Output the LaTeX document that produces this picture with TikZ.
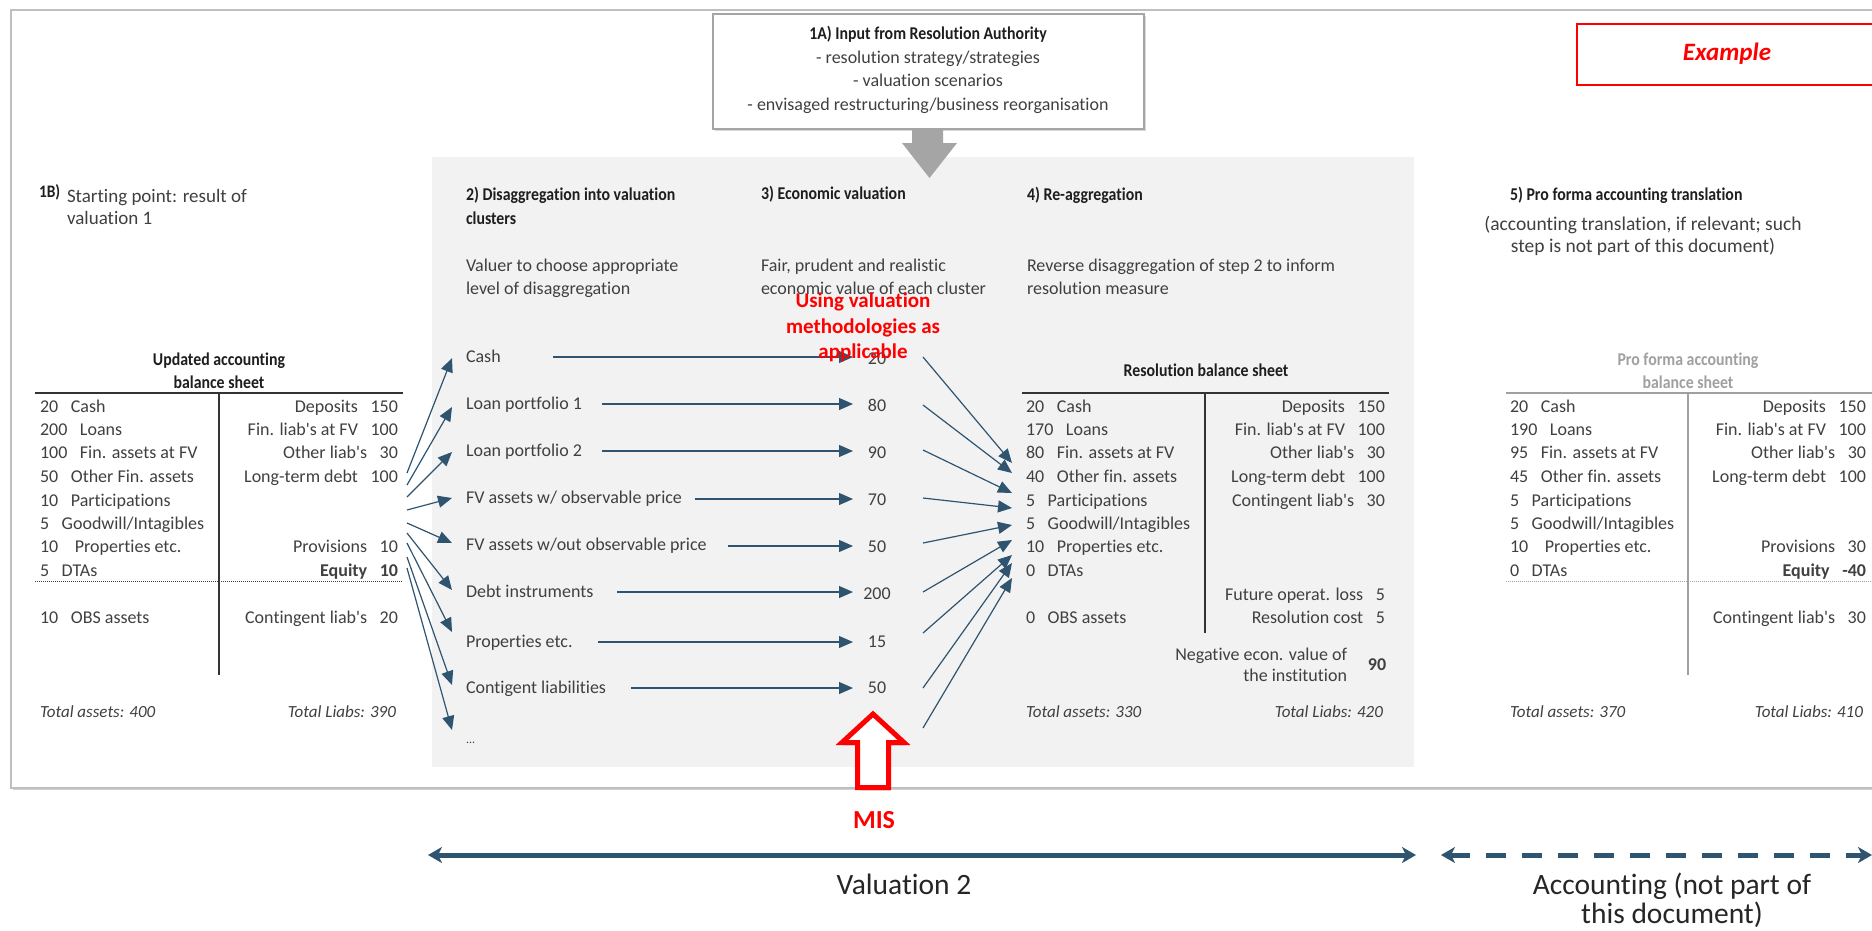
\documentclass[tikz,border=0pt]{standalone}
\usepackage{fontspec}
\setmainfont{Carlito}[Ligatures=NoCommon]
\newfontfamily\condfont{Carlito}[FakeStretch=0.88, Ligatures=NoCommon]
\usetikzlibrary{arrows.meta,shadows}

\definecolor{textcol}{RGB}{64,64,64}
\definecolor{headcol}{RGB}{30,30,30}
\definecolor{panelcol}{RGB}{242,242,242}
\definecolor{linkcol}{RGB}{47,84,112}
\definecolor{framecol}{RGB}{191,191,191}
\definecolor{boxcol}{RGB}{165,165,165}
\definecolor{fadedcol}{RGB}{160,160,160}
\definecolor{alertcol}{RGB}{255,0,0}

\newcommand\gap{\hspace{0.7em}}
\newcommand\ap{\textquotesingle}

\tikzset{
  base/.style={inner sep=0pt, outer sep=0pt, yshift=-3.5pt, text=textcol, font=\fontsize{18}{22}\selectfont},
  lt/.style={base, anchor=mid west},
  rt/.style={base, anchor=mid east},
  ct/.style={base, anchor=mid},
  hd/.style={base, anchor=mid west, text=headcol, font=\fontsize{18}{22}\selectfont\condfont\bfseries},
  hdc/.style={hd, anchor=mid},
  tot/.style={base, font=\fontsize{17}{20}\selectfont\itshape},
  faded/.style={text=fadedcol},
  redtxt/.style={base, anchor=mid, text=alertcol, font=\fontsize{21}{24}\selectfont\bfseries},
  bigtxt/.style={base, anchor=mid, text=black!85, font=\fontsize{29.5}{30}\selectfont},
  tline/.style={draw=textcol!80!black, line width=1.6pt},
  vline/.style={draw=textcol!80!black, line width=1.4pt},
  dotline/.style={draw=textcol, line width=0.9pt, dash pattern=on 1pt off 1pt},
  link/.style={draw=linkcol, line width=1.2pt, -{Triangle[length=14pt,width=12pt]}},
  span/.style={draw=linkcol, line width=5pt, {Stealth[length=14pt,width=16pt,inset=4pt]}-{Stealth[length=14pt,width=16pt,inset=4pt]}},
}

\begin{document}
\begin{tikzpicture}[x=1pt,y=-1pt]
\useasboundingbox (0,0) rectangle (1872,930);
\fill[white] (0,0) rectangle (1872,930);

% outer frame and shaded working area
\draw[framecol, line width=2pt, fill=white,
      drop shadow={shadow xshift=1.5pt, shadow yshift=-2pt, opacity=0.35}]
  (11,10) rectangle (1890,788);
\fill[panelcol] (432,157) rectangle (1414,767);

% input box from the resolution authority
\node[draw=boxcol, line width=2pt, fill=white, minimum width=431pt, minimum height=115pt,
      inner sep=0pt, drop shadow={shadow xshift=1.5pt, shadow yshift=-2pt, opacity=0.3}]
  (input) at (928.5,71.5) {};
\node[hdc] (inputT) at (928,34) {1A) Input from Resolution Authority};
\node[ct]  (input1) at (928,58) {- resolution strategy/strategies};
\node[ct]  (input2) at (928,81) {- valuation scenarios};
\node[ct]  (input3) at (928,105) {- envisaged restructuring/business reorganisation};

% grey block arrow down into the panel
\fill[boxcol] (912,129) -- (943,129) -- (943,143) -- (957,143) -- (929.5,178)
  -- (902,143) -- (912,143) -- cycle;

% example tag
\draw[alertcol, line width=2.5pt, fill=white] (1577,24) rectangle (1890,85);
\node[base, anchor=mid, text=alertcol, font=\fontsize{25}{28}\selectfont\bfseries\itshape]
  (example) at (1727,55) {Example};

% step headings
\node[base, anchor=mid west, text=headcol, font=\fontsize{17.5}{20}\selectfont\condfont\bfseries]
  (s1b) at (39,192) {1B)};
\node[lt, font=\fontsize{19}{22}\selectfont] (s1bA) at (67,197) {Starting point: result of};
\node[lt, font=\fontsize{19}{22}\selectfont] (s1bB) at (67,219) {valuation 1};

\node[hd] (s2A) at (466,195) {2) Disaggregation into valuation};
\node[hd] (s2B) at (466,219) {clusters};
\node[lt] (s2C) at (466,266) {Valuer to choose appropriate};
\node[lt] (s2D) at (466,289) {level of disaggregation};

\node[hd] (s3A) at (761,194) {3) Economic valuation};
\node[lt] (s3C) at (761,266) {Fair, prudent and realistic};
\node[lt] (s3D) at (761,289) {economic value of each cluster};

\node[hd] (s4A) at (1027,195) {4) Re-aggregation};
\node[lt] (s4C) at (1027,266) {Reverse disaggregation of step 2 to inform};
\node[lt] (s4D) at (1027,289) {resolution measure};

\node[hd] (s5A) at (1510,195) {5) Pro forma accounting translation};
\node[ct, font=\fontsize{19.5}{22}\selectfont] (s5C) at (1643,225) {(accounting translation, if relevant; such};
\node[ct, font=\fontsize{19.5}{22}\selectfont] (s5D) at (1643,247) {step is not part of this document)};

% ---- updated accounting balance sheet
\node[hdc] (ubT1) at (219,360) {Updated accounting};
\node[hdc] (ubT2) at (219,383) {balance sheet};
\draw[tline] (35,393) -- (403,393);
\draw[vline] (219,393) -- (219,675);
\draw[dotline] (35,581) -- (403,581);
\node[lt] (ub1) at (40,407) {20\gap Cash};
\node[lt] (ub2) at (40,430) {200\gap Loans};
\node[lt] (ub3) at (40,453) {100\gap Fin. assets at FV};
\node[lt] (ub4) at (40,477) {50\gap Other Fin. assets};
\node[lt] (ub5) at (40,501) {10\gap Participations};
\node[lt] (ub6) at (40,524) {5\gap Goodwill/Intagibles};
\node[lt] (ub7) at (40,547) {10\gap\ Properties etc.};
\node[lt] (ub8) at (40,571) {5\gap DTAs};
\node[lt] (ub9) at (40,618) {10\gap OBS assets};
\node[rt] (ubr1) at (398,407) {Deposits\gap 150};
\node[rt] (ubr2) at (398,430) {Fin. liab\ap s at FV\gap 100};
\node[rt] (ubr3) at (398,453) {Other liab\ap s\gap 30};
\node[rt] (ubr4) at (398,477) {Long-term debt\gap 100};
\node[rt] (ubr7) at (398,547) {Provisions\gap 10};
\node[rt, font=\fontsize{18}{22}\selectfont\bfseries] (ubr8) at (398,571) {Equity\gap 10};
\node[rt] (ubr9) at (398,618) {Contingent liab\ap s\gap 20};
\node[tot, anchor=mid west] (ubA) at (40,712) {Total assets: 400};
\node[tot, anchor=mid east] (ubL) at (396,712) {Total Liabs: 390};

% ---- valuation clusters and their economic values
\node[lt] (c1) at (466,357) {Cash};
\node[lt] (c2) at (466,404) {Loan portfolio 1};
\node[lt] (c3) at (466,451) {Loan portfolio 2};
\node[lt] (c4) at (466,498) {FV assets w/ observable price};
\node[lt] (c5) at (466,545) {FV assets w/out observable price};
\node[lt] (c6) at (466,592) {Debt instruments};
\node[lt] (c7) at (466,642) {Properties etc.};
\node[lt] (c8) at (466,688) {Contigent liabilities};
\node[lt, font=\fontsize{12}{14}\selectfont] (c9) at (466,738) {...};

\node[ct] (v1) at (877,359) {20};
\node[ct] (v2) at (877,406) {80};
\node[ct] (v3) at (877,453) {90};
\node[ct] (v4) at (877,500) {70};
\node[ct] (v5) at (877,547) {50};
\node[ct] (v6) at (877,594) {200};
\node[ct] (v7) at (877,642) {15};
\node[ct] (v8) at (877,688) {50};
\node[ct, font=\fontsize{12}{14}\selectfont] (v9) at (877,740) {...};

% cluster -> value arrows
\coordinate (h1) at (553,357);  \coordinate (e1) at (853,357);
\coordinate (h2) at (602,404);  \coordinate (e2) at (853,404);
\coordinate (h3) at (602,451);  \coordinate (e3) at (853,451);
\coordinate (h4) at (695,499);  \coordinate (e4) at (853,499);
\coordinate (h5) at (728,546);  \coordinate (e5) at (853,546);
\coordinate (h6) at (617,592);  \coordinate (e6) at (853,592);
\coordinate (h7) at (598,642);  \coordinate (e7) at (853,642);
\coordinate (h8) at (631,688);  \coordinate (e8) at (853,688);
\foreach \i in {1,...,8} \draw[link] (h\i) -- (e\i);

% balance sheet -> clusters fan
\coordinate (f1) at (407,473); \coordinate (g1) at (452,358);
\coordinate (f2) at (407,485); \coordinate (g2) at (452,407);
\coordinate (f3) at (407,497); \coordinate (g3) at (452,452);
\coordinate (f4) at (407,510); \coordinate (g4) at (452,498);
\coordinate (f5) at (407,523); \coordinate (g5) at (452,543);
\coordinate (f6) at (407,533); \coordinate (g6) at (452,590);
\coordinate (f7) at (407,543); \coordinate (g7) at (452,632);
\coordinate (f8) at (407,557); \coordinate (g8) at (452,685);
\coordinate (f9) at (407,568); \coordinate (g9) at (452,730);
\foreach \i in {1,...,9} \draw[link] (f\i) -- (g\i);

% values -> resolution balance sheet fan
\coordinate (p1) at (923,357); \coordinate (q1) at (1012,463);
\coordinate (p2) at (923,405); \coordinate (q2) at (1012,473);
\coordinate (p3) at (923,450); \coordinate (q3) at (1012,493);
\coordinate (p4) at (923,498); \coordinate (q4) at (1012,508);
\coordinate (p5) at (923,543); \coordinate (q5) at (1012,525);
\coordinate (p6) at (923,592); \coordinate (q6) at (1012,540);
\coordinate (p7) at (923,633); \coordinate (q7) at (1012,555);
\coordinate (p8) at (923,688); \coordinate (q8) at (1012,563);
\coordinate (p9) at (923,728); \coordinate (q9) at (1012,578);
\foreach \i in {1,...,9} \draw[link] (p\i) -- (q\i);

% note on valuation methods
\node[redtxt] (meth1) at (863,302) {Using valuation};
\node[redtxt] (meth2) at (863,328) {methodologies as};
\node[redtxt] (meth3) at (863,353) {applicable};

% ---- resolution balance sheet
\node[hdc] (rbT) at (1206,371) {Resolution balance sheet};
\draw[tline] (1022,393) -- (1389,393);
\draw[vline] (1205,393) -- (1205,633);
\node[lt] (rb1) at (1026,407) {20\gap Cash};
\node[lt] (rb2) at (1026,430) {170\gap Loans};
\node[lt] (rb3) at (1026,453) {80\gap Fin. assets at FV};
\node[lt] (rb4) at (1026,477) {40\gap Other fin. assets};
\node[lt] (rb5) at (1026,501) {5\gap Participations};
\node[lt] (rb6) at (1026,524) {5\gap Goodwill/Intagibles};
\node[lt] (rb7) at (1026,547) {10\gap Properties etc.};
\node[lt] (rb8) at (1026,571) {0\gap DTAs};
\node[lt] (rb9) at (1026,618) {0\gap OBS assets};
\node[rt] (rbr1) at (1385,407) {Deposits\gap 150};
\node[rt] (rbr2) at (1385,430) {Fin. liab\ap s at FV\gap 100};
\node[rt] (rbr3) at (1385,453) {Other liab\ap s\gap 30};
\node[rt] (rbr4) at (1385,477) {Long-term debt\gap 100};
\node[rt] (rbr5) at (1385,501) {Contingent liab\ap s\gap 30};
\node[rt] (rbr8) at (1385,595) {Future operat. loss\gap 5};
\node[rt] (rbr9) at (1385,618) {Resolution cost\gap 5};
\node[rt] (neg1) at (1347,655) {Negative econ. value of};
\node[rt] (neg2) at (1347,676) {the institution};
\node[ct, font=\fontsize{18}{22}\selectfont\bfseries] (negV) at (1377,665) {90};
\node[tot, anchor=mid west] (rbA) at (1026,712) {Total assets: 330};
\node[tot, anchor=mid east] (rbL) at (1383,712) {Total Liabs: 420};

% ---- pro forma accounting balance sheet
\begin{scope}[every node/.append style={faded}]
\node[hdc, faded] (pfT1) at (1688,360) {Pro forma accounting};
\node[hdc, faded] (pfT2) at (1688,383) {balance sheet};
\draw[tline, draw=fadedcol] (1506,393) -- (1872,393);
\draw[vline, draw=fadedcol] (1688,393) -- (1688,675);
\draw[dotline, draw=fadedcol] (1506,581) -- (1872,581);
\node[lt] (pf1) at (1510,407) {20\gap Cash};
\node[lt] (pf2) at (1510,430) {190\gap Loans};
\node[lt] (pf3) at (1510,453) {95\gap Fin. assets at FV};
\node[lt] (pf4) at (1510,477) {45\gap Other fin. assets};
\node[lt] (pf5) at (1510,501) {5\gap Participations};
\node[lt] (pf6) at (1510,524) {5\gap Goodwill/Intagibles};
\node[lt] (pf7) at (1510,547) {10\gap\ Properties etc.};
\node[lt] (pf8) at (1510,571) {0\gap DTAs};
\node[rt] (pfr1) at (1866,407) {Deposits\gap 150};
\node[rt] (pfr2) at (1866,430) {Fin. liab\ap s at FV\gap 100};
\node[rt] (pfr3) at (1866,453) {Other liab\ap s\gap 30};
\node[rt] (pfr4) at (1866,477) {Long-term debt\gap 100};
\node[rt] (pfr7) at (1866,547) {Provisions\gap 30};
\node[rt, font=\fontsize{18}{22}\selectfont\bfseries] (pfr8) at (1866,571) {Equity\gap -40};
\node[rt] (pfr9) at (1866,618) {Contingent liab\ap s\gap 30};
\node[tot, anchor=mid west] (pfA) at (1510,712) {Total assets: 370};
\node[tot, anchor=mid east] (pfL) at (1863,712) {Total Liabs: 410};
\end{scope}

% MIS block arrow
\draw[alertcol, line width=5pt, fill=white, line join=miter,
      drop shadow={shadow xshift=2pt, shadow yshift=-3pt, opacity=0.3}]
  (873,714) -- (904,742.5) -- (888.5,742.5) -- (888.5,787.5) -- (857.5,787.5)
  -- (857.5,742.5) -- (842,742.5) -- cycle;
\node[base, anchor=mid, text=alertcol, font=\fontsize{26}{28}\selectfont\bfseries]
  (mis) at (874,823) {MIS};

% scope spans
\coordinate (sv1) at (428,855); \coordinate (sv2) at (1416,855);
\coordinate (sa1) at (1441,855); \coordinate (sa2) at (1872,855);
\draw[span] (sv1) -- (sv2);
\draw[span, dash pattern=on 20pt off 16pt] (sa1) -- (sa2);
\node[bigtxt] (val2) at (904,889) {Valuation 2};
\node[bigtxt] (acc1) at (1672,889) {Accounting (not part of};
\node[bigtxt] (acc2) at (1672,918) {this document)};
\end{tikzpicture}
\end{document}
